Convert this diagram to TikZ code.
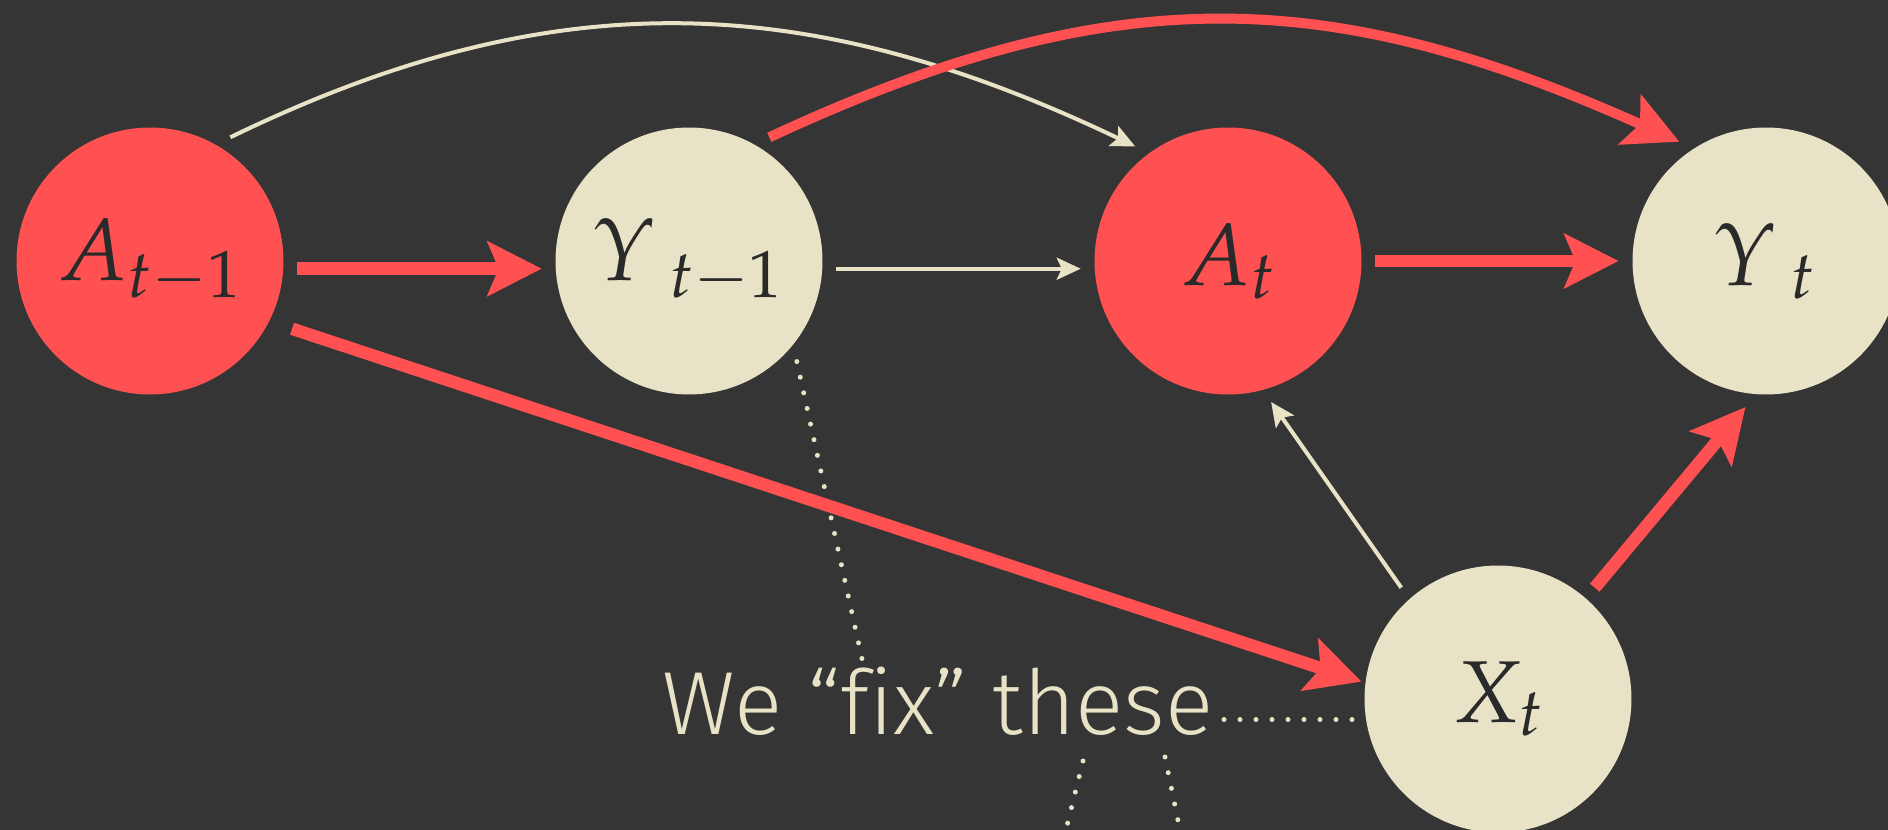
\documentclass[tikz,border=0pt]{standalone}
\usepackage[slantedGreek]{mathpazo}
\usepackage[no-math]{fontspec}
\newfontfamily\fixfont{Fira Sans}[UprightFont=* Light, Ligatures=NoCommon]
\usetikzlibrary{arrows.meta}

\definecolor{bgdark}{HTML}{353535}
\definecolor{redfill}{HTML}{FF5151}
\definecolor{creamfill}{HTML}{E8E3C6}
\definecolor{inkdark}{HTML}{2A2A2A}

\begin{document}
\begin{tikzpicture}[
    x=0.02cm,
    y=-0.02cm,
    every node/.style={font=\fontsize{50}{54}\selectfont, text=inkdark},
    varnode/.style={circle, minimum size=5.34cm, inner sep=0pt, outer sep=0.28cm},
    actnode/.style={varnode, fill=redfill},
    outnode/.style={varnode, fill=creamfill},
    bigarrow/.style={draw=redfill, line width=0.25cm,
        -{Stealth[length=1.08cm, width=1.08cm, inset=0.22cm]}},
    smallarrow/.style={draw=creamfill, line width=0.08cm,
        -{Stealth[length=0.48cm, width=0.44cm, inset=0.1cm]}},
    fixline/.style={draw=creamfill, line width=0.1cm, line cap=round,
        dash pattern=on 0pt off 0.32cm}
]

% Hintergrund
\clip (0,0) rectangle (1888,830);
\path[use as bounding box, fill=bgdark] (0,0) rectangle (1888,830);

% Knoten
\node[actnode] (am1) at (150,261) {$A_{t-1}$};
\node[outnode] (ym1) at (689,261) {${\Upsilon\mkern3mu}_{t-1}$};
\node[actnode] (at)  at (1228,261) {$A_t$};
\node[outnode] (yt)  at (1766,261) {${\Upsilon\mkern3mu}_t$};
\node[outnode] (xt)  at (1498,699) {$X_t$};

% Text
\node[anchor=base west, inner sep=0.1cm, text=creamfill,
      font=\fixfont\fontsize{51}{55}\selectfont] (fix) at (657,734) {We “fix” these};

% punktierte Linien
\coordinate (fixtop) at (864,668);
\coordinate (lowa) at (1083,761);
\coordinate (lowaend) at (1061,850);
\coordinate (lowb) at (1165,757);
\coordinate (lowbend) at (1184,850);

\draw[fixline] (ym1.-43) -- (fixtop);
\draw[fixline] (xt.188) -- (xt.188 -| fix.east);
\draw[fixline] (lowa) -- (lowaend);
\draw[fixline] (lowb) -- (lowbend);

% gerade Pfeile
\draw[bigarrow] (am1.-3.5) -- (ym1.183.5);
\draw[smallarrow] (ym1.-3.5) -- (at.183.5);
\draw[bigarrow] (at.0) -- (yt.180);
\draw[bigarrow, shorten <=0.2cm, shorten >=-0.2cm] (am1.-26.6) -- (xt.172.5);
\draw[smallarrow] (xt.131) -- (at.-73);
\draw[bigarrow] (xt.49.4) -- (yt.-98);

% Bögen
\draw[smallarrow] (am1.57.7) .. controls (556,-21) and (810,-9) .. (at.129);
\draw[bigarrow, line width=0.2cm] (ym1.57.7) .. controls (1118,-25) and (1333,-13) .. (yt.126);

\end{tikzpicture}
\end{document}
